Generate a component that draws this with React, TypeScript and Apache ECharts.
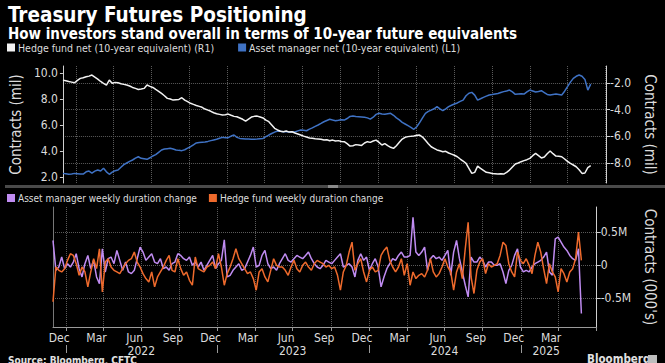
import React, { useEffect, useRef } from "react";
import * as echarts from "echarts";

// ---------- data ----------
const START_DATE = "2021-11-30"; // first weekly observation (CFTC Tuesday)
const AXIS_MIN = "2021-11-30";
const AXIS_MAX = "2025-07-03";

// Hedge fund net (10-year equivalent), millions of contracts (right axis, R1)
const hedgeFundNet = [
  -1.78, -1.82, -1.88, -1.93, -1.98, -1.8, -1.65, -1.6, -1.53, -1.48,
  -1.4, -1.55, -1.7, -1.88, -2.02, -2.15, -1.78, -2.02, -1.95, -1.98,
  -2.05, -2.1, -2.15, -2.22, -2.33, -2.4, -2.48, -2.45, -2.4, -2.15,
  -2.25, -2.33, -2.48, -2.62, -2.78, -2.95, -3.15, -3.2, -3.28, -3.25,
  -3.23, -3.1, -3.28, -3.4, -3.52, -3.6, -3.68, -3.75, -3.82, -3.95,
  -4.03, -4.12, -4.23, -4.3, -4.35, -4.4, -4.38, -4.33, -4.42, -4.5,
  -4.53, -4.62, -4.72, -4.85, -4.7, -4.55, -4.5, -4.48, -4.55, -4.62,
  -4.78, -4.9, -5.15, -5.4, -5.52, -5.62, -5.65, -5.6, -5.68, -5.65,
  -5.75, -5.82, -5.9, -5.98, -6.05, -6.12, -6.15, -6.18, -6.2, -6.22,
  -6.28, -6.25, -6.33, -6.28, -6.35, -6.32, -6.38, -6.4, -6.55, -6.73,
  -6.7, -6.62, -6.65, -6.68, -6.5, -6.4, -6.45, -6.35, -6.28, -6.45,
  -6.65, -6.55, -6.7, -6.82, -6.9, -6.7, -6.45, -6.2, -6.07, -6.02,
  -6.0, -5.97, -5.92, -5.9, -6.05, -6.3, -6.55, -6.78, -6.9, -7.02,
  -7.08, -7.15, -7.12, -7.25, -7.33, -7.42, -7.53, -7.7, -7.85, -8.03,
  -8.4, -8.78, -8.7, -8.23, -8.4, -8.55, -8.7, -8.73, -8.78, -8.8,
  -8.82, -8.8, -8.83, -8.7, -8.53, -8.3, -8.08, -8.0, -7.9, -7.82,
  -7.75, -7.65, -7.45, -7.28, -7.45, -7.62, -7.55, -7.3, -7.1, -7.3,
  -7.48, -7.5, -7.53, -7.7, -7.88, -8.03, -8.15, -8.28, -8.5, -8.78,
  -8.75, -8.35, -8.2,
];

// Asset manager net (10-year equivalent), millions of contracts (left axis, L1)
const assetManagerNet = [
  2.28, 2.25, 2.21, 2.24, 2.28, 2.26, 2.24, 2.23, 2.4, 2.46,
  2.3, 2.45, 2.54, 2.46, 2.67, 2.4, 2.21, 2.38, 2.49, 2.54,
  2.75, 2.95, 3.08, 3.2, 3.31, 3.45, 3.56, 3.44, 3.4, 3.36,
  3.48, 3.62, 3.72, 3.9, 4.08, 4.15, 4.18, 4.21, 4.15, 4.08,
  4.05, 4.03, 4.1, 4.22, 4.33, 4.48, 4.62, 4.66, 4.68, 4.7,
  4.74, 4.8, 4.85, 4.9, 4.98, 5.05, 5.02, 5.03, 5.15, 5.23,
  5.05, 4.97, 4.95, 4.92, 4.93, 4.91, 4.9, 4.92, 4.95, 4.97,
  5.1, 5.23, 5.35, 5.45, 5.54, 5.52, 5.49, 5.5, 5.47, 5.48,
  5.46, 5.55, 5.62, 5.6, 5.56, 5.68, 5.78, 5.9, 6.0, 6.12,
  6.25, 6.35, 6.44, 6.38, 6.33, 6.36, 6.4, 6.38, 6.5, 6.66,
  6.69, 6.65, 6.64, 6.62, 6.59, 6.55, 6.45, 6.6, 6.82, 6.9,
  6.85, 6.82, 6.86, 6.9, 6.75, 6.55, 6.4, 6.2, 6.08, 5.95,
  5.82, 5.67, 5.87, 6.18, 6.55, 6.9, 7.05, 7.15, 7.25, 7.41,
  7.25, 7.1, 7.25, 7.41, 7.52, 7.62, 7.7, 7.82, 7.92, 8.25,
  8.44, 8.51, 8.3, 7.92, 8.02, 8.13, 8.22, 8.31, 8.34, 8.38,
  8.42, 8.5, 8.57, 8.62, 8.69, 8.55, 8.36, 8.38, 8.4, 8.38,
  8.55, 8.69, 8.62, 8.54, 8.58, 8.64, 8.5, 8.35, 8.31, 8.35,
  8.38, 8.35, 8.31, 8.6, 8.95, 9.3, 9.59, 9.75, 9.85, 9.75,
  9.51, 8.69, 9.15,
];

// Weekly duration changes, thousands of contracts
const assetManagerWeekly = [
  375, -75, -25, 125, -50, 25, -25, 50, 175, -50,
  -175, 25, 150, -50, 75, -175, -275, 250, -100, 100,
  125, 25, 225, 75, -75, 50, -100, -125, -75, 100,
  275, 200, 75, 125, 175, 50, 25, 100, -50, -25,
  -75, 25, 50, 175, 150, 100, 75, 125, 0, 50,
  -25, 50, -75, 0, 75, 150, -50, 25, 75, 385,
  -175, -150, -75, -25, 25, -75, -50, 50, 150, 275,
  -25, 0, 150, 225, 25, -50, -25, -75, 25, 100,
  175, 75, 50, 100, 150, 125, 100, 150, 200, 100,
  25, -25, -50, 0, 75, 50, 25, 75, 125, 175,
  -25, 0, 25, -25, -175, 75, 175, 75, 125, -75,
  25, 100, -25, -325, -175, -50, 25, 100, 75, 150,
  200, 125, 125, 150, 725, 200, 150, 200, 275, -75,
  100, 150, 100, 125, 75, 150, 225, -150, 200, 375,
  100, -100, -300, -475, 125, 50, 50, 125, 75, -25,
  50, 50, 0, 0, 25, -100, -275, -75, 0, 150,
  250, -25, -100, -75, -100, -25, 25, 50, 75, 125,
  200, -100, -150, 400, 425, 350, 275, 225, 150, 100,
  75, 250, -725,
];

const hedgeFundWeekly = [
  -550, -25, -75, -100, -50, 75, 175, 150, 25, -150,
  -25, -100, -325, -100, 100, -50, 250, -400, 50, 100,
  -25, -75, -100, -125, -50, 25, 75, 100, 200, 50,
  -25, -125, -200, -250, -100, -325, -175, -100, -25, 75,
  150, -75, -100, 100, -50, -150, -100, -225, -300, 125,
  -50, -75, -100, -25, 0, 50, -50, 175, -25, -300,
  -125, -25, 100, 250, 100, 25, -50, -125, -100, -200,
  -375, -100, -50, -175, -250, -75, 100, 0, -25, -25,
  -75, -150, -25, 75, -50, -100, 0, 50, -25, -75,
  25, 75, 50, 25, -25, 0, -50, -25, -150, -375,
  -100, 0, 200, 350, -75, 25, 100, -100, -250, -75,
  -25, -100, -75, 150, 225, 275, 75, -25, -100, -25,
  100, -150, 25, -300, -100, -200, -150, -125, -175, -75,
  100, -100, -175, -125, -25, 100, -25, -100, -375, -100,
  25, -200, 250, 650, -175, -425, -75, 50, 100, -125,
  25, -25, 0, 25, 150, 350, 300, 25, -100, -175,
  200, 75, 25, 100, 0, -125, 150, 350, 200, -50,
  -275, 25, -100, -175, -400, -50, -125, -250, -100, -50,
  100, 500, 75,
];

const leftTicks = [2, 4, 6, 8, 10];
const rightTicks = [-8, -6, -4, -2];
const lowerTicks = [-500, 0, 500];
const quarterStarts = [
  "2022-01-01", "2022-04-01", "2022-07-01", "2022-10-01",
  "2023-01-01", "2023-04-01", "2023-07-01", "2023-10-01",
  "2024-01-01", "2024-04-01", "2024-07-01", "2024-10-01",
  "2025-01-01", "2025-04-01", "2025-07-01",
];
const monthLabelDates = [
  "2021-12-15", "2022-03-15", "2022-06-15", "2022-09-15",
  "2022-12-15", "2023-03-15", "2023-06-15", "2023-09-15",
  "2023-12-15", "2024-03-15", "2024-06-15", "2024-09-15",
  "2024-12-15", "2025-03-15",
];
const yearBoundaries = ["2022-01-01", "2023-01-01", "2024-01-01", "2025-01-01"];
const yearLabelDates = ["2022-07-01", "2023-07-01", "2024-07-01", "2025-03-03"];
const MONTHS = ["Jan", "Feb", "Mar", "Apr", "May", "Jun", "Jul", "Aug", "Sep", "Oct", "Nov", "Dec"];

const NAME_HF_NET = "Hedge fund net (10-year equivalent) (R1)";
const NAME_AM_NET = "Asset manager net (10-year equivalent) (L1)";
const NAME_AM_WK = "Asset manager weekly duration change";
const NAME_HF_WK = "Hedge fund weekly duration change";

// ---------- helpers ----------
const ts = (s: string) => {
  const [y, m, d] = s.split("-").map(Number);
  return Date.UTC(y, m - 1, d);
};
const WEEK = 7 * 86400000;
const weekDates = hedgeFundNet.map((_, i) => ts(START_DATE) + i * WEEK);
const pair = (arr: number[]) => arr.map((v, i) => [weekDates[i], v]);

const FONT = "'Liberation Sans Narrow', 'DejaVu Sans Condensed', 'Liberation Sans', sans-serif";
const TXT = "#dcdcdc";
const GRIDC = "#5a5a5a";

const WHITE = "#f2f2f2";
const BLUE = "#3f72c4";
const PURPLE = "#c08cf2";
const ORANGE = "#ee6a2c";

export default function App() {
  const ref = useRef<HTMLDivElement>(null);
  useEffect(() => {
    if (!ref.current) return;
    const chart = echarts.init(ref.current, undefined, { renderer: "svg" });
    const xMin = ts(AXIS_MIN);
    const xMax = ts(AXIS_MAX);
    const splitDotted = { show: true, lineStyle: { color: GRIDC, type: "dotted", width: 1 } };

    const option: any = {
      backgroundColor: "#000",
      animation: false,
      textStyle: { fontFamily: FONT },
      title: [
        {
          text: "Treasury Futures Positioning",
          left: 8, top: 4, padding: 0,
          textStyle: { color: "#fff", fontSize: 20.5, fontWeight: "bold", fontFamily: FONT },
        },
        {
          text: "How investors stand overall in terms of 10-year future equivalents",
          left: 8, top: 26, padding: 0,
          textStyle: { color: "#fff", fontSize: 15, fontWeight: "bold", fontFamily: FONT },
        },
      ],
      legend: [
        {
          left: 7, top: 42, padding: 0, icon: "rect", itemWidth: 8, itemHeight: 8, itemGap: 24,
          data: [NAME_HF_NET, NAME_AM_NET],
          textStyle: { color: TXT, fontSize: 10.5, fontFamily: FONT, padding: [0, 0, 0, -2] },
        },
        {
          left: 7, top: 193, padding: 0, icon: "rect", itemWidth: 8, itemHeight: 8, itemGap: 12,
          data: [NAME_AM_WK, NAME_HF_WK],
          textStyle: { color: TXT, fontSize: 10, fontFamily: FONT, padding: [0, 0, 0, -2] },
        },
      ],
      grid: [
        { left: 53, right: 57, top: 66, height: 117 },
        { left: 53, right: 57, top: 207, height: 120 },
      ],
      xAxis: [
        {
          type: "value", gridIndex: 0, min: xMin, max: xMax,
          axisLine: { show: false },
          axisTick: { show: false, customValues: quarterStarts.map(ts) },
          axisLabel: { show: false },
          splitLine: splitDotted,
        },
        {
          type: "value", gridIndex: 1, min: xMin, max: xMax,
          axisLine: { show: true, onZero: false, lineStyle: { color: "#9a9a9a", width: 1 } },
          axisTick: { show: true, length: 4, customValues: quarterStarts.map(ts), lineStyle: { color: "#9a9a9a" } },
          axisLabel: {
            show: true, color: TXT, fontSize: 12, lineHeight: 12, fontFamily: FONT, margin: 5,
            customValues: monthLabelDates.map(ts),
            formatter: (v: number) => MONTHS[new Date(v).getUTCMonth()],
          },
          splitLine: splitDotted,
        },
        {
          type: "value", gridIndex: 1, min: xMin, max: xMax, position: "bottom", offset: 18,
          axisLine: { show: false, onZero: false },
          axisTick: { show: true, length: 8, customValues: yearBoundaries.map(ts), lineStyle: { color: "#9a9a9a" } },
          axisLabel: {
            show: true, color: TXT, fontSize: 12, lineHeight: 12, fontFamily: FONT, margin: 0,
            customValues: yearLabelDates.map(ts),
            formatter: (v: number) => String(new Date(v).getUTCFullYear()),
          },
          splitLine: { show: false },
        },
      ],
      yAxis: [
        {
          type: "value", gridIndex: 0, position: "left", min: 1.54, max: 10.54,
          name: "Contracts (mil)", nameLocation: "middle", nameGap: 30, nameRotate: 90,
          nameTextStyle: { color: TXT, fontSize: 15, fontFamily: FONT },
          axisLine: { show: true, onZero: false, lineStyle: { color: "#cfcfcf" } },
          axisTick: { show: true, length: 3, customValues: leftTicks, lineStyle: { color: "#cfcfcf" } },
          axisLabel: {
            color: TXT, fontSize: 12, fontFamily: FONT, margin: 5, customValues: leftTicks,
            formatter: (v: number) => v.toFixed(1),
          },
          splitLine: { show: false },
        },
        {
          type: "value", gridIndex: 0, position: "right", min: -9.5, max: -0.72,
          name: "Contracts (mil)", nameLocation: "middle", nameGap: 34, nameRotate: -90,
          nameTextStyle: { color: TXT, fontSize: 15, fontFamily: FONT },
          axisLine: { show: true, onZero: false, lineStyle: { color: "#cfcfcf" } },
          axisTick: { show: true, length: 4, customValues: rightTicks, lineStyle: { color: "#cfcfcf" } },
          axisLabel: {
            color: TXT, fontSize: 12, fontFamily: FONT, margin: 4, customValues: rightTicks,
            formatter: (v: number) => v.toFixed(1),
          },
          splitLine: splitDotted,
        },
        {
          type: "value", gridIndex: 1, position: "right", min: -930, max: 880,
          name: "Contracts (000's)", nameLocation: "middle", nameGap: 34, nameRotate: -90,
          nameTextStyle: { color: TXT, fontSize: 15, fontFamily: FONT },
          axisLine: { show: true, onZero: false, lineStyle: { color: "#cfcfcf" } },
          axisTick: { show: true, length: 4, customValues: lowerTicks, lineStyle: { color: "#cfcfcf" } },
          axisLabel: {
            color: TXT, fontSize: 12, fontFamily: FONT, margin: 4, customValues: lowerTicks,
            formatter: (v: number) => (v === 0 ? "0" : `${v / 1000}M`),
          },
          splitLine: splitDotted,
        },
        {
          type: "value", gridIndex: 1, position: "left", min: -930, max: 880,
          axisLine: { show: true, onZero: false, lineStyle: { color: "#777" } },
          axisTick: { show: false },
          axisLabel: { show: false },
          splitLine: { show: false },
        },
      ],
      series: [
        {
          name: NAME_AM_NET, type: "line", xAxisIndex: 0, yAxisIndex: 0, data: pair(assetManagerNet),
          showSymbol: false, symbol: "none", lineStyle: { color: BLUE, width: 1.5 }, itemStyle: { color: BLUE },
        },
        {
          name: NAME_HF_NET, type: "line", xAxisIndex: 0, yAxisIndex: 1, data: pair(hedgeFundNet),
          showSymbol: false, symbol: "none", lineStyle: { color: WHITE, width: 1.5 }, itemStyle: { color: WHITE },
        },
        {
          name: NAME_AM_WK, type: "line", xAxisIndex: 1, yAxisIndex: 2, data: pair(assetManagerWeekly),
          showSymbol: false, symbol: "none", lineStyle: { color: PURPLE, width: 1.5 }, itemStyle: { color: PURPLE },
        },
        {
          name: NAME_HF_WK, type: "line", xAxisIndex: 1, yAxisIndex: 2, data: pair(hedgeFundWeekly),
          showSymbol: false, symbol: "none", lineStyle: { color: ORANGE, width: 1.5 }, itemStyle: { color: ORANGE },
        },
      ],
      graphic: [
        { type: "rect", left: 5, top: 185, shape: { width: 660, height: 3 }, style: { fill: "#4a4a4a" }, silent: true },
        { type: "rect", left: 328, top: 185, shape: { width: 10, height: 3 }, style: { fill: "#8a8a8a" }, silent: true },
        {
          type: "text", left: 8, top: 355,
          style: { text: "Source: Bloomberg, CFTC", fill: "#e0e0e0", font: `bold 10px ${FONT}` },
        },
        {
          type: "text", left: 587, top: 353,
          style: { text: "Bloomberg", fill: "#e0e0e0", font: `bold 11.5px ${FONT}` },
        },
        { type: "rect", left: 648, top: 355, shape: { width: 9, height: 9 }, style: { fill: "#bdbdbd" }, silent: true },
      ],
    };
    chart.setOption(option);
    return () => chart.dispose();
  }, []);
  return (
    <div
      ref={ref}
      style={{ position: "fixed", left: 0, top: 0, width: 665, height: 363, background: "#000" }}
    />
  );
}
